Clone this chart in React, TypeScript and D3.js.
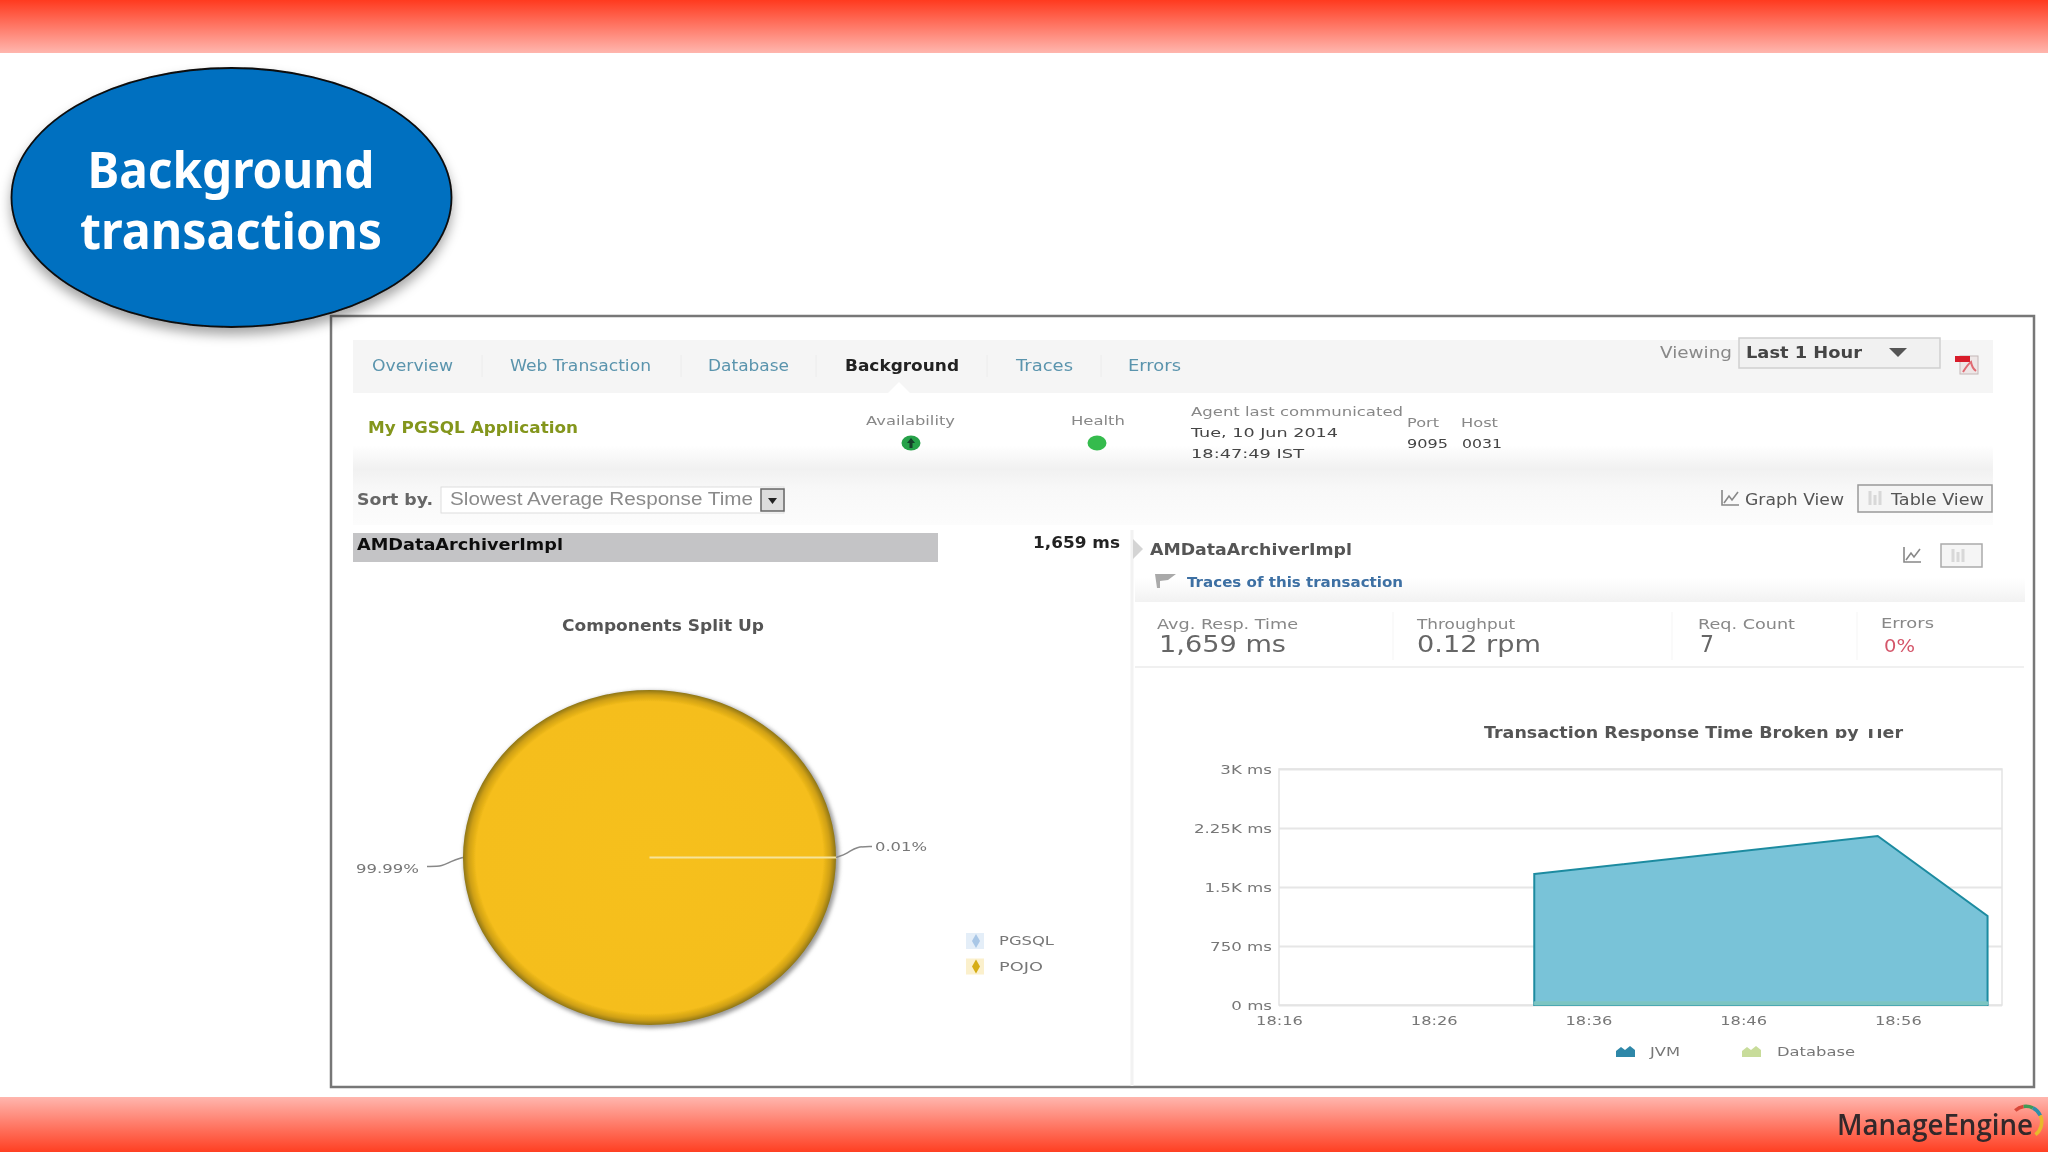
import { useEffect, useRef } from 'react';
import * as d3 from 'd3';

// components pie
const componentNames = ['PGSQL', 'POJO'];
const componentShares = [0.01, 99.99];
const componentLabels = ['0.01%', '99.99%'];

// response time area chart
const sampleTimes = ['18:32:30', '18:54:42', '19:01:48'];
const jvmMs = [1625, 2108, 1091];
const databaseMs = [40, 40, 40];
const yTicks = [0, 750, 1500, 2250, 3000];
const yTickLabels = ['0 ms', '750 ms', '1.5K ms', '2.25K ms', '3K ms'];
const xTickTimes = ['18:16:00', '18:26:00', '18:36:00', '18:46:00', '18:56:00'];

const toDate = (s: string) => {
  const [h, m, sec] = s.split(':').map(Number);
  return new Date(2014, 5, 10, h, m, sec);
};

const WIDTH = 2048;
const HEIGHT = 1152;
const plot = { left: 1279, right: 2002, top: 769, bottom: 1005 };

const x = d3
  .scaleTime()
  .domain([toDate('18:16:00'), toDate('19:02:44')])
  .range([plot.left, plot.right]);
const y = d3.scaleLinear().domain([0, 3000]).range([plot.bottom, plot.top]);

const rows = sampleTimes.map((t, i) => ({ t: toDate(t), Database: databaseMs[i], JVM: jvmMs[i] }));
const stacked = d3.stack<any>().keys(['Database', 'JVM'])(rows);
const area = d3
  .area<any>()
  .x((d) => x(d.data.t))
  .y0((d) => y(d[0]))
  .y1((d) => y(d[1]));
const totalArea = d3
  .area<any>()
  .x((d) => x(d.data.t))
  .y0(y(0))
  .y1((d) => y(d[1]));

const pieCx = 649.5;
const pieCy = 857.5;
const pieRx = 186.5;
const pieRy = 167.5;
const slices = d3
  .pie<number>()
  .sort(null)
  .startAngle(Math.PI / 2)
  .endAngle(Math.PI / 2 + Math.PI * 2)(componentShares);
const pieArc = d3.arc<d3.PieArcDatum<number>>().innerRadius(0).outerRadius(pieRx);
const leader = d3.line().curve(d3.curveBasis);

const logoArc = d3.arc();
const logoColors = ['#d8483a', '#3f9c57', '#2f8fa8', '#e8b92c'];
const logoAngles = [-0.75, -0.15, 0.45, 1.15, 2.5];

// text squeezed or stretched to the width it has in the screenshot
const T = ({ x, y, w, size = 13, bold = false, fill = '#777', font = 'DejaVu Sans', anchor = 'start', children }: any) => (
  <text
    x={x}
    y={y}
    textLength={w}
    lengthAdjust="spacingAndGlyphs"
    fontSize={size}
    fontWeight={bold ? 700 : 400}
    fontFamily={font}
    fill={fill}
    textAnchor={anchor}
  >
    {children}
  </text>
);

const GraphIcon = ({ x, y }: any) => (
  <path
    transform={`translate(${x},${y})`}
    d="M1 0V15H18M3 13L8 6L11 10L17 2"
    fill="none"
    stroke="#888"
    strokeWidth={1.6}
  />
);

const App = () => {
  const xAxisRef = useRef<SVGGElement | null>(null);
  const yAxisRef = useRef<SVGGElement | null>(null);

  useEffect(() => {
    if (!xAxisRef.current || !yAxisRef.current) return;

    const stretch = (sel: any, k: number) =>
      sel.each(function (this: SVGTextElement) {
        this.setAttribute('textLength', String(this.getComputedTextLength() * k));
        this.setAttribute('lengthAdjust', 'spacingAndGlyphs');
      });

    const yAxis = d3.select(yAxisRef.current);
    yAxis.selectAll('*').remove();
    yAxis.call(
      d3
        .axisLeft(y)
        .tickValues(yTicks)
        .tickSize(-(plot.right - plot.left))
        .tickPadding(7)
        .tickFormat((_, i) => yTickLabels[i]) as any,
    );
    yAxis.select('.domain').remove();
    yAxis.selectAll('line').attr('stroke', '#e6e6e6').attr('stroke-width', 2);
    yAxis
      .selectAll('text')
      .attr('font-family', 'DejaVu Sans')
      .attr('font-size', 13)
      .attr('fill', '#777')
      .call(stretch, 1.28);

    const xAxis = d3.select(xAxisRef.current);
    xAxis.selectAll('*').remove();
    xAxis.call(
      d3
        .axisBottom(x)
        .tickValues(xTickTimes.map(toDate))
        .tickSize(0)
        .tickPadding(11)
        .tickFormat(d3.timeFormat('%H:%M') as any) as any,
    );
    xAxis.select('.domain').remove();
    xAxis
      .selectAll('text')
      .attr('font-family', 'DejaVu Sans')
      .attr('font-size', 13)
      .attr('fill', '#777')
      .call(stretch, 1.25);
  }, []);

  const pts = slices.map((s) => {
    const mid = (s.startAngle + s.endAngle) / 2;
    return [pieCx + pieRx * Math.sin(mid), pieCy - pieRy * Math.cos(mid)];
  });

  return (
    <svg
      width={WIDTH}
      height={HEIGHT}
      viewBox={`0 0 ${WIDTH} ${HEIGHT}`}
      style={{ position: 'absolute', left: 0, top: 0, display: 'block', background: '#fff' }}
    >
      <defs>
        <linearGradient id="topBand" x1="0" y1="0" x2="0" y2="1">
          <stop offset="0" stopColor="#ff3a1f" />
          <stop offset="1" stopColor="#ffb6ae" />
        </linearGradient>
        <linearGradient id="bottomBand" x1="0" y1="0" x2="0" y2="1">
          <stop offset="0" stopColor="#ffb6ae" />
          <stop offset="1" stopColor="#ff3f22" />
        </linearGradient>
        <linearGradient id="rowBand" x1="0" y1="0" x2="0" y2="1">
          <stop offset="0" stopColor="#ffffff" />
          <stop offset="0.3" stopColor="#f1f1f1" />
          <stop offset="0.55" stopColor="#f8f8f8" />
          <stop offset="1" stopColor="#fcfcfc" />
        </linearGradient>
        <linearGradient id="fadeBand" x1="0" y1="0" x2="0" y2="1">
          <stop offset="0" stopColor="#ffffff" />
          <stop offset="1" stopColor="#f2f2f2" />
        </linearGradient>
        <radialGradient id="pieFill" cx="0.5" cy="0.5" r="0.5">
          <stop offset="0" stopColor="#f6c01c" />
          <stop offset="0.93" stopColor="#f5be1b" />
          <stop offset="0.97" stopColor="#cfa014" />
          <stop offset="1" stopColor="#8f7614" />
        </radialGradient>
        <filter id="ovalShadow" x="-10%" y="-10%" width="120%" height="130%">
          <feDropShadow dx="0" dy="7" stdDeviation="6" floodColor="#000" floodOpacity="0.35" />
        </filter>
        <filter id="soft" x="-2%" y="-2%" width="104%" height="104%">
          <feGaussianBlur stdDeviation="0.7" />
        </filter>
        <filter id="pieShadow" x="-10%" y="-10%" width="120%" height="120%">
          <feGaussianBlur stdDeviation="2" />
        </filter>
      </defs>

      <rect width={WIDTH} height={53} fill="url(#topBand)" />
      <rect y={1097} width={WIDTH} height={55} fill="url(#bottomBand)" />

      <g filter="url(#soft)">
        <rect x={331} y={316} width={1703} height={771} fill="#fff" stroke="#777" strokeWidth={2.5} />

        {/* tab strip */}
        <rect x={353} y={340} width={1640} height={53} fill="#f5f5f5" />
        <path d="M888 393L899 382L910 393Z" fill="#fff" />
        <T x={372} y={371} w={81} size={16} fill="#5a94ad">Overview</T>
        <T x={510} y={371} w={141} size={16} fill="#5a94ad">Web Transaction</T>
        <T x={708} y={371} w={81} size={16} fill="#5a94ad">Database</T>
        <T x={845} y={371} w={114} size={16} bold fill="#222">Background</T>
        <T x={1016} y={371} w={57} size={16} fill="#5a94ad">Traces</T>
        <T x={1128} y={371} w={53} size={16} fill="#5a94ad">Errors</T>
        {[482, 681, 816, 987, 1101].map((sx) => (
          <line key={sx} x1={sx} x2={sx} y1={355} y2={377} stroke="#ececec" />
        ))}
        <T x={1660} y={358} w={72} size={16} fill="#888">Viewing</T>
        <rect x={1739} y={338} width={201} height={30} fill="#f1f1f1" stroke="#cfcfcf" strokeWidth={1.5} />
        <T x={1746} y={358} w={116} size={16} bold fill="#444">Last 1 Hour</T>
        <path d="M1889 348H1907L1898 357Z" fill="#555" />
        <rect x={1960} y={356} width={18} height={18} fill="#eee6e6" stroke="#c4b8b8" />
        <rect x={1955} y={356} width={15} height={6} fill="#d81e2c" />
        <path d="M1963 372Q1968 364 1971 362Q1972 368 1976 371" fill="none" stroke="#e06a72" strokeWidth={2} />

        {/* sort row band, with the application row fading into it */}
        <rect x={353} y={445} width={1640} height={80} fill="url(#rowBand)" />

        {/* application row */}
        <T x={368} y={433} w={210} size={15.5} bold fill="#84961e">My PGSQL Application</T>
        <T x={866} y={425} w={89} size={13} fill="#888">Availability</T>
        <ellipse cx={911} cy={443} rx={9.5} ry={7.5} fill="#25a148" />
        <path d="M911 438L915 443H912.5V448H909.5V443H907Z" fill="#12402a" />
        <T x={1071} y={425} w={54} size={13} fill="#888">Health</T>
        <ellipse cx={1097} cy={443} rx={9.5} ry={7.5} fill="#35bb4e" />
        <T x={1191} y={416} w={212} size={13} fill="#888">Agent last communicated</T>
        <T x={1191} y={437} w={147} size={13} fill="#444">Tue, 10 Jun 2014</T>
        <T x={1191} y={458} w={113} size={13} fill="#444">18:47:49 IST</T>
        <T x={1407} y={427} w={32} size={13} fill="#888">Port</T>
        <T x={1461} y={427} w={37} size={13} fill="#888">Host</T>
        <T x={1407} y={448} w={41} size={13} fill="#444">9095</T>
        <T x={1462} y={448} w={40} size={13} fill="#444">0031</T>

        {/* sort row */}
        <T x={357} y={505} w={76} size={15} bold fill="#666">Sort by.</T>
        <rect x={441} y={487} width={343} height={26} fill="#fff" stroke="#ddd" />
        <T x={450} y={505} w={303} size={18} font="Liberation Sans" fill="#8a8a8a">Slowest Average Response Time</T>
        <rect x={761} y={489} width={23} height={22} fill="#ddd" stroke="#666" strokeWidth={1.5} />
        <path d="M768 498H777L772.5 504Z" fill="#222" />
        <GraphIcon x={1721} y={490} />
        <T x={1745} y={505} w={99} size={15} fill="#555">Graph View</T>
        <rect x={1858} y={485} width={134} height={27} fill="#f5f5f5" stroke="#999" strokeWidth={1.5} />
        <path d="M1870 491V505M1875 495V505M1880 491V505" stroke="#d8d8d8" strokeWidth={3} />
        <T x={1891} y={505} w={93} size={15} fill="#555">Table View</T>

        {/* selected transaction */}
        <rect x={353} y={533} width={585} height={29} fill="#c4c4c6" />
        <T x={357} y={550} w={206} size={16} bold fill="#111">AMDataArchiverImpl</T>
        <T x={1033} y={548} w={87} size={15} bold fill="#222">1,659 ms</T>
        <line x1={1132} x2={1132} y1={530} y2={1086} stroke="#f2f2f2" strokeWidth={3} />
        <path d="M1133 539L1143 549L1133 559Z" fill="#d4d4d4" />
        <T x={1150} y={555} w={202} size={16} bold fill="#555">AMDataArchiverImpl</T>
        <GraphIcon x={1903} y={547} />
        <rect x={1941} y={544} width={41} height={23} fill="#f5f5f5" stroke="#aaa" strokeWidth={1.5} />
        <path d="M1953 549V562M1958 552V562M1963 549V562" stroke="#d8d8d8" strokeWidth={3} />
        <rect x={1135} y={578} width={890} height={24} fill="url(#fadeBand)" />
        <path d="M1155 574H1176L1168 580L1160 581V588H1157Z" fill="#a9a9a9" />
        <T x={1187} y={587} w={216} size={14} bold fill="#3d6fa3">Traces of this transaction</T>

        {/* stats */}
        <T x={1157} y={629} w={141} size={14} fill="#888">Avg. Resp. Time</T>
        <T x={1159} y={652} w={127} size={23} fill="#666">1,659 ms</T>
        <T x={1417} y={629} w={98} size={14} fill="#888">Throughput</T>
        <T x={1417} y={652} w={124} size={23} fill="#666">0.12 rpm</T>
        <T x={1698} y={629} w={97} size={14} fill="#888">Req. Count</T>
        <T x={1700} y={652} w={14} size={23} fill="#666">7</T>
        <T x={1881} y={628} w={53} size={14} fill="#888">Errors</T>
        <T x={1884} y={652} w={31} size={17} fill="#d4566a">0%</T>
        <line x1={1135} x2={2024} y1={667} y2={667} stroke="#f0f0f0" strokeWidth={2} />
        {[1393, 1672, 1857].map((sx) => (
          <line key={sx} x1={sx} x2={sx} y1={612} y2={660} stroke="#f5f5f5" />
        ))}

        {/* pie */}
        <T x={562} y={631} w={202} size={15} bold fill="#555">Components Split Up</T>
        <ellipse cx={pieCx + 2} cy={pieCy + 2} rx={pieRx + 1} ry={pieRy + 1} fill="#999" filter="url(#pieShadow)" />
        <g transform={`translate(${pieCx},${pieCy}) scale(1,${pieRy / pieRx})`}>
          <path d={pieArc(slices[1]) as string} fill="url(#pieFill)" />
          <path
            d={pieArc(slices[0]) as string}
            fill="#f6e39a"
            stroke="#f6e39a"
            strokeWidth={2}
            vectorEffect="non-scaling-stroke"
          />
        </g>
        {slices.map((_, i) => {
          const [px, py] = pts[i];
          const dir = i === 0 ? 1 : -1;
          const dy = i === 0 ? -11 : 9;
          return (
            <path
              key={componentNames[i]}
              d={leader([[px, py], [px + dir * 12, py + dy * 0.4], [px + dir * 20, py + dy], [px + dir * 36, py + dy]]) as string}
              fill="none"
              stroke="#888"
              strokeWidth={1.5}
            />
          );
        })}
        <T x={875} y={851} w={52} size={13} fill="#777">{componentLabels[0]}</T>
        <T x={356} y={873} w={63} size={13} fill="#777">{componentLabels[1]}</T>
        {componentNames.map((name, i) => {
          const ly = 941 + i * 25.5;
          const dark = i === 0 ? '#a9c7e6' : '#d6ad16';
          const pale = i === 0 ? '#e4eef8' : '#fbf0cc';
          return (
            <g key={name}>
              <rect x={966} y={ly - 8} width={18} height={16} fill={pale} />
              <path d={`M976 ${ly - 7}L980 ${ly}L976 ${ly + 7}L972 ${ly}Z`} fill={dark} />
              <T x={999} y={ly + 4} w={i === 0 ? 55 : 44} size={13} fill="#777">{name}</T>
            </g>
          );
        })}

        {/* area chart */}
        <T x={1484} y={738} w={419} size={15.5} bold fill="#555">Transaction Response Time Broken by Tier</T>
        <rect x={1830} y={720} width={78} height={9} fill="#fff" />
        <g ref={yAxisRef} transform={`translate(${plot.left},0)`} />
        <rect
          x={plot.left}
          y={plot.top}
          width={plot.right - plot.left}
          height={plot.bottom - plot.top}
          fill="none"
          stroke="#e3e3e3"
          strokeWidth={1.5}
        />
        <path d={totalArea(stacked[1]) as string} fill="#79c3d8" stroke="#1d8ba0" strokeWidth={2} />
        <path d={area(stacked[0]) as string} fill="#7cc5c2" stroke="#7cc5c2" />
        <g ref={xAxisRef} transform={`translate(0,${plot.bottom})`} />
        <path d="M1616 1057V1051L1621 1047L1625 1050L1630 1046L1635 1050V1057Z" fill="#2f87a8" />
        <T x={1650} y={1056} w={30} size={13} fill="#777">JVM</T>
        <path d="M1742 1057V1051L1747 1047L1751 1050L1756 1046L1761 1050V1057Z" fill="#c8dc9a" />
        <T x={1777} y={1056} w={78} size={13} fill="#777">Database</T>
      </g>

      {/* title oval */}
      <ellipse cx={231.5} cy={197.5} rx={220} ry={129.5} fill="#0270c0" stroke="#0a0a0a" strokeWidth={1.8} filter="url(#ovalShadow)" />
      <text textAnchor="middle" fontFamily="Noto Sans" fontWeight={700} fontSize={51} fill="#fff">
        <tspan x={231} y={188} textLength={287} lengthAdjust="spacingAndGlyphs">Background</tspan>
        <tspan x={231} y={249} textLength={302} lengthAdjust="spacingAndGlyphs">transactions</tspan>
      </text>

      {/* logo */}
      <text x={1837} y={1135} fontFamily="Open Sans" fontWeight={600} fontSize={28} fill="#33282a" textLength={196} lengthAdjust="spacingAndGlyphs">
        ManageEngine
      </text>
      <g transform="translate(2026,1122)">
        {logoColors.map((c, i) => (
          <path
            key={c}
            d={logoArc({ innerRadius: 14, outerRadius: 17.5, startAngle: logoAngles[i], endAngle: logoAngles[i + 1] }) as string}
            fill={c}
          />
        ))}
      </g>
    </svg>
  );
};

export default App;
